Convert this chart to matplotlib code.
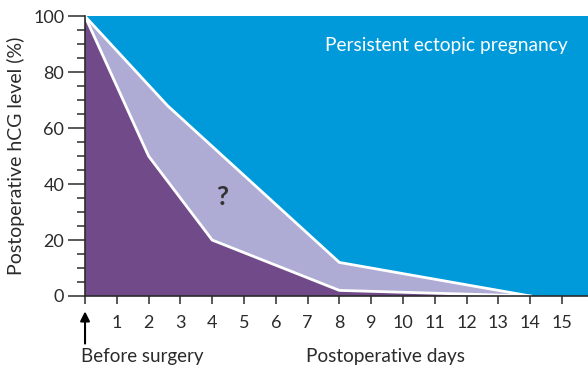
import matplotlib.pyplot as plt
import numpy as np

# hCG decline after surgery: fastest and slowest expected curves
days_upper = [0, 2.6, 8, 14]
hcg_upper = [100, 68, 12, 0]
days_lower = [0, 2, 4, 8, 14]
hcg_lower = [100, 50, 20, 2, 0]

day_ticks = list(range(1, 16))
level_ticks = [0, 20, 40, 60, 80, 100]

BLUE = '#0099d9'
LAVENDER = '#aeacd5'
PURPLE = '#714a89'
INK = '#2b2b2b'

plt.rcParams['font.family'] = ['Lato', 'DejaVu Sans']

fig = plt.figure(figsize=(5.88, 3.70), dpi=100)
ax = fig.add_axes([0.1446, 0.2, 0.8554, 0.756])
x_max = 15.82

ax.axhspan(0, 100, color=BLUE, lw=0, zorder=1)
ax.fill(days_upper + [x_max, 0], hcg_upper + [0, 0], color=LAVENDER, lw=0, zorder=2)
ax.fill(days_lower + [0], hcg_lower + [0], color=PURPLE, lw=0, zorder=3)
ax.plot(days_upper, hcg_upper, color='white', lw=2.0, zorder=4, solid_joinstyle='miter')
ax.plot(days_lower, hcg_lower, color='white', lw=2.0, zorder=4, solid_joinstyle='miter')

ax.text(4.3, 35.5, '?', fontsize=19, fontweight='bold', color='#333333',
        ha='center', va='center', zorder=5)
ax.text(7.55, 89.5, 'Persistent ectopic pregnancy', fontsize=13.8, color='white',
        ha='left', va='center', zorder=5)

ax.set_xlim(0, x_max)
ax.set_ylim(0, 100)

for side in ['top', 'right']:
    ax.spines[side].set_visible(False)
for side in ['left', 'bottom']:
    ax.spines[side].set_color(INK)
    ax.spines[side].set_linewidth(1.2)
    ax.spines[side].set_zorder(6)

ax.set_xticks([0] + day_ticks)
ax.set_xticklabels([''] + [str(d) for d in day_ticks])
ax.set_yticks(level_ticks)
ax.set_yticks(np.arange(5, 100, 5), minor=True)
ax.tick_params(axis='x', direction='out', length=6, width=1.1, color=INK,
               labelsize=13, labelcolor=INK, pad=8)
ax.tick_params(axis='y', which='major', direction='out', length=12, width=1.1,
               color=INK, labelsize=13, labelcolor=INK, pad=3)
ax.tick_params(axis='y', which='minor', direction='out', length=6, width=1.1, color=INK)

ax.set_ylabel('Postoperative hCG level (%)', fontsize=14, color=INK, labelpad=6)

trans = ax.get_xaxis_transform()
ax.annotate('', xy=(0, -0.055), xytext=(0, -0.17), xycoords=trans, textcoords=trans,
            arrowprops=dict(arrowstyle='-|>', color='black', lw=1.5,
                            mutation_scale=14, shrinkA=0, shrinkB=0),
            annotation_clip=False)
ax.text(-0.14, -0.215, 'Before surgery', transform=trans, fontsize=13.5,
        color=INK, ha='left', va='center')
ax.text(9.45, -0.215, 'Postoperative days', transform=trans, fontsize=13.7,
        color=INK, ha='center', va='center')

fig.savefig('out.png', dpi=100)
